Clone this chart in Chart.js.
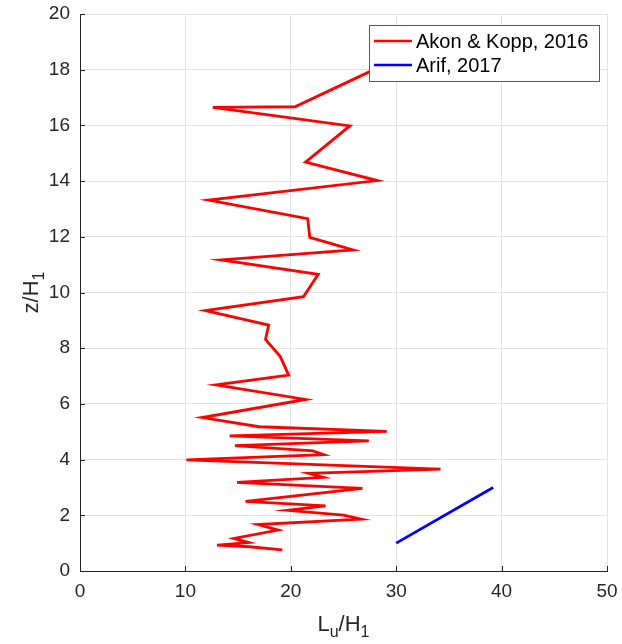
<!DOCTYPE html>
<html>
<head>
<meta charset="utf-8">
<script src="https://cdn.jsdelivr.net/npm/chart.js@4/dist/chart.umd.min.js"></script>
<style>
html,body{margin:0;padding:0;background:#fff;}
#wrap{width:622px;height:644px;}
</style>
</head>
<body>
<div id="wrap"><canvas id="c" width="622" height="644"></canvas></div>
<script>
// ---- data ----
const seriesNames = ["Akon & Kopp, 2016", "Arif, 2017"];
const akonLu = [19.2, 16.1, 13.0, 16.0, 14.6, 18.8, 16.9, 26.7, 25.0, 19.7, 23.3, 15.7, 26.8, 14.9, 23.1, 21.7, 34.2, 10.1, 23.1, 22.1, 14.7, 27.4, 14.2, 29.1, 17.0, 11.6, 21.4, 12.9, 19.8, 19.0, 17.6, 17.9, 11.9, 21.2, 22.6, 13.4, 25.9, 21.8, 21.6, 12.2, 28.2, 21.4, 25.6, 12.6, 20.4, 29.0];
const akonZ  = [0.76, 0.87, 0.93, 1.02, 1.17, 1.47, 1.67, 1.86, 2.01, 2.18, 2.34, 2.50, 2.97, 3.18, 3.36, 3.51, 3.66, 3.99, 4.18, 4.31, 4.50, 4.67, 4.85, 5.01, 5.18, 5.51, 6.16, 6.68, 7.03, 7.70, 8.32, 8.83, 9.35, 9.85, 10.65, 11.17, 11.53, 11.98, 12.65, 13.32, 14.02, 14.68, 15.98, 16.65, 16.67, 18.2];
const arifLu = [30.0, 39.2];
const arifZ  = [1.0, 3.0];
const xTicks = [0, 10, 20, 30, 40, 50];
const yTicks = [0, 2, 4, 6, 8, 10, 12, 14, 16, 18, 20];

const FONT = '"Liberation Sans", Arial, Helvetica, sans-serif';
const AXIS = '#262626';

function pts(xs, ys){ return xs.map((x,i)=>({x:x, y:ys[i]})); }

const innerTicks = {
  id:'innerTicks',
  afterDatasetsDraw(chart){
    const {ctx, chartArea:a, scales:{x, y}} = chart;
    ctx.save();
    ctx.strokeStyle = AXIS; ctx.lineWidth = 1;
    ctx.beginPath();
    xTicks.forEach(v=>{ const px = Math.round(x.getPixelForValue(v))+0.5; ctx.moveTo(px, a.bottom); ctx.lineTo(px, a.bottom-5); });
    yTicks.forEach(v=>{ const py = Math.round(y.getPixelForValue(v))+0.5; ctx.moveTo(a.left, py); ctx.lineTo(a.left+5, py); });
    ctx.stroke();
    ctx.restore();
  }
};

function drawSub(ctx, parts, big, small, cx, cy){
  let w = 0;
  parts.forEach(p=>{ ctx.font = (p[1]?small:big)+'px '+FONT; w += ctx.measureText(p[0]).width; });
  let xx = cx - w/2;
  parts.forEach(p=>{
    ctx.font = (p[1]?small:big)+'px '+FONT;
    ctx.fillText(p[0], xx, cy + (p[1]? 6 : 0));
    xx += ctx.measureText(p[0]).width;
  });
}

const axisTitles = {
  id:'axisTitles',
  afterDraw(chart){
    const {ctx, chartArea:a} = chart;
    ctx.save();
    ctx.fillStyle = AXIS;
    ctx.textBaseline = 'alphabetic';
    ctx.textAlign = 'left';
    drawSub(ctx, [["L",false],["u",true],["/H",false],["1",true]], 22, 16, (a.left+a.right)/2, 631);
    ctx.translate(38, (a.top+a.bottom)/2);
    ctx.rotate(-Math.PI/2);
    drawSub(ctx, [["z/H",false],["1",true]], 22, 16, 0, 0);
    ctx.restore();
  }
};

const boxLegend = {
  id:'boxLegend',
  afterDatasetsDraw(chart){
    const ctx = chart.ctx;
    const L = 369, T = 25, W = 230, H = 56;
    ctx.save();
    ctx.fillStyle = '#ffffff';
    ctx.fillRect(L, T, W, H);
    ctx.strokeStyle = '#5a5a5a'; ctx.lineWidth = 1;
    ctx.strokeRect(L+0.5, T+0.5, W, H);
    chart.data.datasets.forEach((ds, i)=>{
      const yy = T + 16 + i*24;
      ctx.strokeStyle = ds.borderColor; ctx.lineWidth = 2.5;
      ctx.beginPath(); ctx.moveTo(L+5, yy); ctx.lineTo(L+43, yy); ctx.stroke();
      ctx.fillStyle = '#000';
      ctx.font = '20px '+FONT;
      ctx.textBaseline = 'middle'; ctx.textAlign = 'left';
      ctx.fillText(ds.label, L+47, yy+1);
    });
    ctx.restore();
  }
};

new Chart(document.getElementById('c'), {
  type:'scatter',
  data:{
    datasets:[
      {label:seriesNames[0], data:pts(akonLu, akonZ), showLine:true, borderColor:'#ff0000', backgroundColor:'#ff0000', borderWidth:2.8, pointRadius:0, tension:0},
      {label:seriesNames[1], data:pts(arifLu, arifZ), showLine:true, borderColor:'#0000ff', backgroundColor:'#0000ff', borderWidth:2.8, pointRadius:0, tension:0}
    ]
  },
  options:{
    responsive:false,
    animation:false,
    devicePixelRatio:1,
    layout:{padding:{top:14, right:15, left:0, bottom:0}},
    plugins:{legend:{display:false}, tooltip:{enabled:false}},
    scales:{
      x:{
        type:'linear', min:0, max:50,
        afterBuildTicks(s){ s.ticks = xTicks.map(v=>({value:v})); },
        afterFit(s){ s.height = 73; s.paddingLeft = 0; s.paddingRight = 0; },
        grid:{color:'#e3e3e3', drawTicks:false, lineWidth:1},
        border:{color:AXIS, width:1},
        ticks:{color:AXIS, font:{family:FONT, size:19}, padding:9, maxRotation:0}
      },
      y:{
        type:'linear', min:0, max:20,
        afterBuildTicks(s){ s.ticks = yTicks.map(v=>({value:v})); },
        afterFit(s){ s.width = 80; s.paddingTop = 0; s.paddingBottom = 0; },
        grid:{color:'#e3e3e3', drawTicks:false, lineWidth:1},
        border:{color:AXIS, width:1},
        ticks:{color:AXIS, font:{family:FONT, size:19}, padding:10}
      }
    }
  },
  plugins:[innerTicks, boxLegend, axisTitles]
});
</script>
</body>
</html>
